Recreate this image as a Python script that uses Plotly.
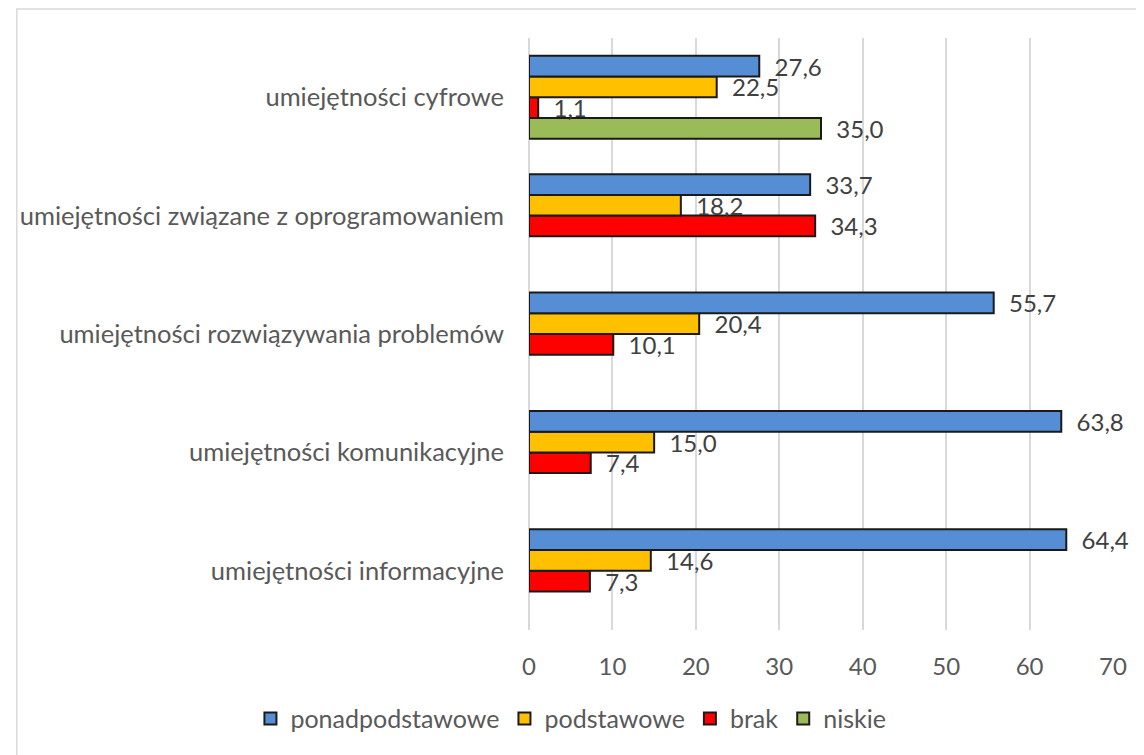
import plotly.graph_objects as go

# categories listed bottom -> top (plotly puts the first category at the bottom)
categories = [
    "umiejętności informacyjne",
    "umiejętności komunikacyjne",
    "umiejętności rozwiązywania problemów",
    "umiejętności związane z oprogramowaniem",
    "umiejętności cyfrowe",
]
ponadpodstawowe = [64.4, 63.8, 55.7, 33.7, 27.6]
podstawowe = [14.6, 15.0, 20.4, 18.2, 22.5]
brak = [7.3, 7.4, 10.1, 34.3, 1.1]
niskie = [None, None, None, None, 35.0]
x_ticks = [0, 10, 20, 30, 40, 50, 60, 70]

FONT = "Lato"
SIZE = 24
TXT = "#404040"
AX = "#595959"
GRID = "#D9D9D9"

# first trace ends up lowest inside each group, so go bottom -> top
series = [
    ("niskie", niskie, "#9BBB59"),
    ("brak", brak, "#FF0000"),
    ("podstawowe", podstawowe, "#FFC000"),
    ("ponadpodstawowe", ponadpodstawowe, "#558ED5"),
]

fig = go.Figure()
for name, vals, color in series:
    fig.add_trace(go.Bar(
        y=categories, x=vals, name=name, orientation="h",
        marker=dict(color=color, line=dict(color="#1A1A1A", width=2)),
        texttemplate="\u00a0\u00a0%{x:.1f}", textposition="outside",
        constraintext="none", cliponaxis=False,
        textfont=dict(family=FONT, size=SIZE, color=TXT),
    ))

# page has an 8px body margin, so the figure is a bit smaller than the window
fig.update_layout(
    width=1136, height=747,
    margin=dict(l=517, r=31, t=30, b=125),
    barmode="group", bargap=0.30, bargroupgap=0,
    separators=", ",
    plot_bgcolor="white", paper_bgcolor="white",
    font=dict(family=FONT, size=SIZE, color=AX),
    showlegend=True,
    legend=dict(orientation="h", traceorder="reversed",
                x=-0.477, xanchor="left", y=-0.150, yanchor="middle",
                font=dict(family=FONT, size=25, color=AX),
                itemwidth=30),
    shapes=[dict(type="rect", xref="paper", yref="paper",
                 x0=-0.877, x1=1.07, y0=-0.25, y1=1.049,
                 line=dict(color=GRID, width=1.5), layer="below")],
)
fig.update_xaxes(range=[0, 70], tickvals=x_ticks, showgrid=True,
                 gridcolor=GRID, gridwidth=1.5, zeroline=True,
                 zerolinecolor=GRID, zerolinewidth=1.5, showline=False,
                 ticklabelstandoff=20, tickfont=dict(family=FONT, size=SIZE, color=AX))
fig.update_yaxes(showgrid=False, showline=False, zeroline=False,
                 ticklabelstandoff=24, tickfont=dict(family=FONT, size=25.5, color=AX))

fig.write_html("out.html")
